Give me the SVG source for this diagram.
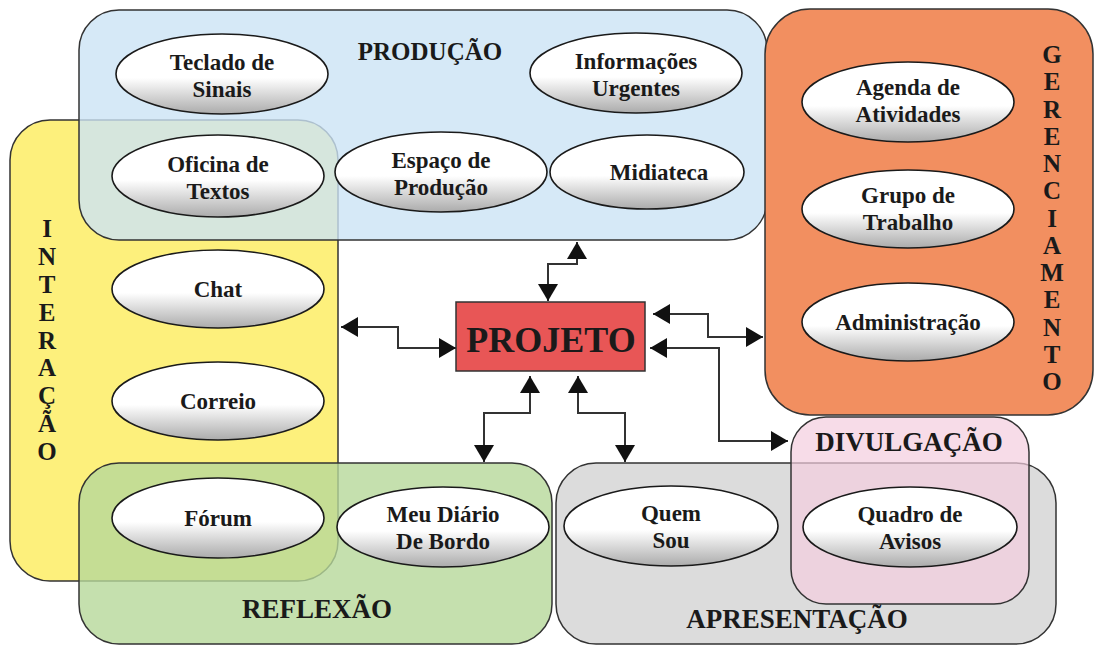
<svg xmlns="http://www.w3.org/2000/svg" width="1095" height="646" viewBox="0 0 1095 646">
<defs>
<linearGradient id="eg" x1="0" y1="0" x2="0" y2="1">
<stop offset="0" stop-color="#ffffff"/>
<stop offset="0.55" stop-color="#ffffff"/>
<stop offset="1" stop-color="#ababab"/>
</linearGradient>
<marker id="ah" markerUnits="userSpaceOnUse" markerWidth="18" markerHeight="20" viewBox="0 0 18 20" refX="17" refY="10" orient="auto-start-reverse">
<path d="M0,0 L17,10 L0,20 z" fill="#111"/>
</marker>
<style>
.box{stroke:#333;stroke-width:1.5}
.el{fill:url(#eg);stroke:#1a1a1a;stroke-width:1.6}
.t{font-family:"Liberation Serif","Times New Roman",serif;font-weight:bold;fill:#1a1a1a;text-anchor:middle}
.et{font-size:23px}
.tt{font-size:27px}
.vt{font-size:25px}
.conn{fill:none;stroke:#333;stroke-width:2;marker-start:url(#ah);marker-end:url(#ah)}
</style>
</defs>
<rect width="1095" height="646" fill="#ffffff"/>

<g id="interacao">
<rect class="box" x="10" y="120" width="328" height="461" rx="40" fill="#fdf07c"/>
<text class="t vt" x="47"><tspan x="47" y="237">I</tspan><tspan x="47" y="265">N</tspan><tspan x="47" y="293">T</tspan><tspan x="47" y="321">E</tspan><tspan x="47" y="349">R</tspan><tspan x="47" y="376">A</tspan><tspan x="47" y="404">Ç</tspan><tspan x="47" y="432">Ã</tspan><tspan x="47" y="460">O</tspan></text>
</g>

<g id="producao">
<rect class="box" x="79" y="10" width="688" height="230" rx="40" fill="#cce4f5" fill-opacity="0.8" stroke="#5f6f78"/>
<text class="t" style="font-size:25px" x="430" y="60">PRODUÇÃO</text>
</g>

<g id="gerenciamento">
<rect class="box" x="765" y="9" width="328" height="406" rx="45" fill="#f28f60"/>
<text class="t vt" x="1052"><tspan x="1052" y="63">G</tspan><tspan x="1052" y="90">E</tspan><tspan x="1052" y="118">R</tspan><tspan x="1052" y="145">E</tspan><tspan x="1052" y="172">N</tspan><tspan x="1052" y="199">C</tspan><tspan x="1052" y="227">I</tspan><tspan x="1052" y="254">A</tspan><tspan x="1052" y="281">M</tspan><tspan x="1052" y="308">E</tspan><tspan x="1052" y="336">N</tspan><tspan x="1052" y="363">T</tspan><tspan x="1052" y="390">O</tspan></text>
</g>

<g id="reflexao">
<rect class="box" x="79" y="463" width="473" height="181" rx="40" fill="#b7d89a" fill-opacity="0.8" stroke="#4a5a40"/>
<text class="t tt" x="317" y="618">REFLEXÃO</text>
</g>

<g id="apresentacao">
<rect class="box" x="556" y="463" width="500" height="181" rx="40" fill="#dcdcdc"/>
<text class="t tt" x="797" y="628">APRESENTAÇÃO</text>
</g>

<g id="divulgacao">
<rect class="box" x="791" y="417" width="238" height="187" rx="35" fill="#f4cdde" fill-opacity="0.7" stroke="#555"/>
<text class="t tt" x="909" y="451">DIVULGAÇÃO</text>
</g>

<g id="connectors">
<path class="conn" d="M577,242 V264 H548 V301"/>
<path class="conn" d="M341,327 H398 V348 H456"/>
<path class="conn" d="M653,314 H708 V337 H763"/>
<path class="conn" d="M650,348 H719 V441 H788"/>
<path class="conn" d="M530,376 V413 H484 V462"/>
<path class="conn" d="M578,376 V413 H625 V462"/>
</g>

<g id="projeto">
<rect x="456" y="302" width="189" height="69" fill="#e85656" stroke="#333" stroke-width="1.5"/>
<text class="t" style="font-size:36px" x="551" y="352">PROJETO</text>
</g>

<g id="teclado"><ellipse class="el" cx="222" cy="74" rx="106" ry="40"/><text class="t et" x="222" y="70">Teclado de</text><text class="t et" x="222" y="97">Sinais</text></g>
<g id="informacoes"><ellipse class="el" cx="636" cy="73" rx="106" ry="40"/><text class="t et" x="636" y="69">Informações</text><text class="t et" x="636" y="96">Urgentes</text></g>
<g id="oficina"><ellipse class="el" cx="218" cy="176" rx="106" ry="41"/><text class="t et" x="218" y="172">Oficina de</text><text class="t et" x="218" y="199">Textos</text></g>
<g id="espaco"><ellipse class="el" cx="441" cy="172" rx="106" ry="40"/><text class="t et" x="441" y="168">Espaço de</text><text class="t et" x="441" y="195">Produção</text></g>
<g id="midiateca"><ellipse class="el" cx="647" cy="172" rx="97" ry="37"/><text class="t et" x="659" y="180">Midiateca</text></g>
<g id="chat"><ellipse class="el" cx="218" cy="289" rx="106" ry="39"/><text class="t et" x="218" y="297">Chat</text></g>
<g id="correio"><ellipse class="el" cx="218" cy="401" rx="106" ry="39"/><text class="t et" x="218" y="409">Correio</text></g>
<g id="forum"><ellipse class="el" cx="218" cy="518" rx="106" ry="40"/><text class="t et" x="218" y="526">Fórum</text></g>
<g id="diario"><ellipse class="el" cx="443" cy="527" rx="106" ry="40"/><text class="t et" x="443" y="522">Meu Diário</text><text class="t et" x="443" y="549">De Bordo</text></g>
<g id="quemsou"><ellipse class="el" cx="671" cy="526" rx="107" ry="40"/><text class="t et" x="671" y="521">Quem</text><text class="t et" x="671" y="548">Sou</text></g>
<g id="quadro"><ellipse class="el" cx="910" cy="527" rx="107" ry="40"/><text class="t et" x="910" y="522">Quadro de</text><text class="t et" x="910" y="549">Avisos</text></g>
<g id="agenda"><ellipse class="el" cx="908" cy="102" rx="106" ry="40"/><text class="t et" x="908" y="95">Agenda de</text><text class="t et" x="908" y="122">Atividades</text></g>
<g id="grupo"><ellipse class="el" cx="908" cy="209" rx="106" ry="39"/><text class="t et" x="908" y="203">Grupo de</text><text class="t et" x="908" y="230">Trabalho</text></g>
<g id="administracao"><ellipse class="el" cx="908" cy="322" rx="106" ry="39"/><text class="t et" x="908" y="330">Administração</text></g>
</svg>
